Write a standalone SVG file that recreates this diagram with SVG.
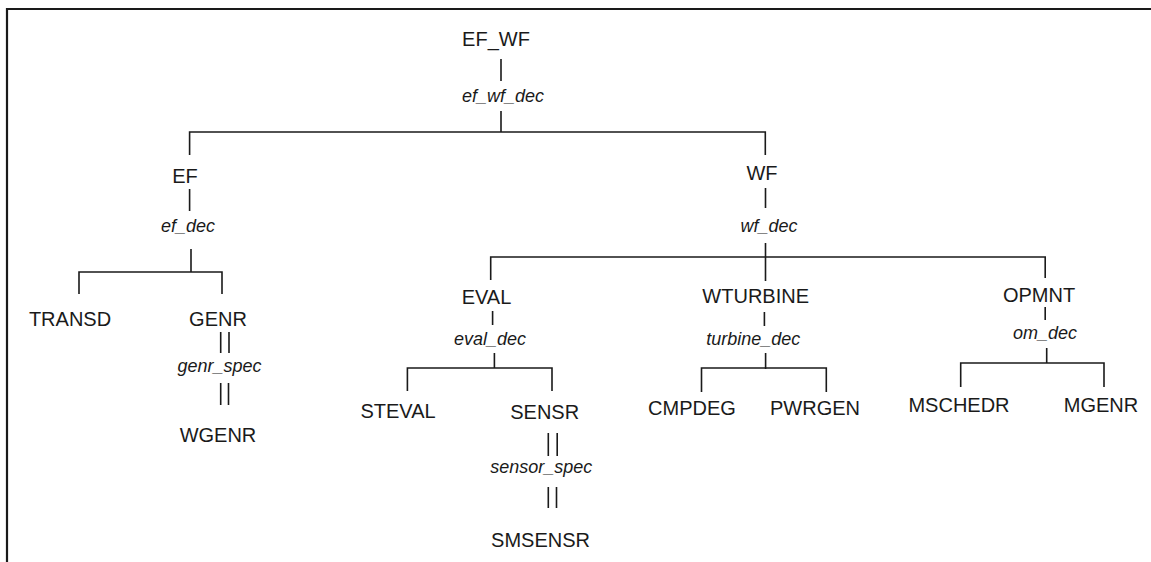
<svg xmlns="http://www.w3.org/2000/svg" width="1151" height="562" viewBox="0 0 1151 562">
<style>
.n{font-family:"Liberation Sans",Arial,sans-serif;font-size:20px;fill:#1a1a1a;text-anchor:middle}
.d{font-family:"Liberation Sans",Arial,sans-serif;font-size:18px;font-style:italic;fill:#1a1a1a;text-anchor:middle}
.c{stroke:#1a1a1a;stroke-width:1.6;fill:none}
.f{stroke:#1a1a1a;stroke-width:2.2;fill:none}
</style>
<rect width="1151" height="562" fill="#ffffff"/>
<path class="f" d="M1151 9H7V562"/>
<g id="connectors">
<path class="c" d="M501 59V81M501 111V132M189.6 155V132H765.3V155"/>
<path class="c" d="M189.6 189V211M191 249V272M79 294V272H222V294"/>
<path class="c" d="M765.5 188V208M765.5 243V281M490.7 280V257H1045.2V278"/>
<path class="c" d="M492.6 311V325M494.4 353V368M407.4 391V368H552V391"/>
<path class="c" d="M764.4 312V326M765.6 353V369M701.5 392V368H826.3V392"/>
<path class="c" d="M1045.2 307V320M1046.7 348V363M960.7 387V363H1104V387"/>
<path class="c" d="M220.7 332V353M229 332V353M220.7 383V405M228.5 383V405"/>
<path class="c" d="M548.3 433V456M557.2 433V456M548.3 487V508M556.5 487V508"/>
</g>
<g id="EF_WF"><text class="n" x="496" y="46">EF_WF</text></g>
<g id="ef_wf_dec"><text class="d" x="503" y="102">ef_wf_dec</text></g>
<g id="EF"><text class="n" x="185" y="183">EF</text></g>
<g id="ef_dec"><text class="d" x="188" y="232">ef_dec</text></g>
<g id="WF"><text class="n" x="762" y="180">WF</text></g>
<g id="wf_dec"><text class="d" x="769" y="232">wf_dec</text></g>
<g id="TRANSD"><text class="n" x="70" y="326">TRANSD</text></g>
<g id="GENR"><text class="n" x="218" y="326">GENR</text></g>
<g id="genr_spec"><text class="d" x="219.5" y="372">genr_spec</text></g>
<g id="WGENR"><text class="n" x="218" y="442">WGENR</text></g>
<g id="EVAL"><text class="n" x="486.5" y="304">EVAL</text></g>
<g id="eval_dec"><text class="d" x="490" y="345">eval_dec</text></g>
<g id="STEVAL"><text class="n" x="398" y="418">STEVAL</text></g>
<g id="SENSR"><text class="n" x="544.7" y="419">SENSR</text></g>
<g id="sensor_spec"><text class="d" x="541.3" y="473">sensor_spec</text></g>
<g id="SMSENSR"><text class="n" x="540.5" y="547">SMSENSR</text></g>
<g id="WTURBINE"><text class="n" x="755.7" y="303">WTURBINE</text></g>
<g id="turbine_dec"><text class="d" x="753.3" y="345">turbine_dec</text></g>
<g id="CMPDEG"><text class="n" x="692" y="415">CMPDEG</text></g>
<g id="PWRGEN"><text class="n" x="815" y="415">PWRGEN</text></g>
<g id="OPMNT"><text class="n" x="1039" y="302">OPMNT</text></g>
<g id="om_dec"><text class="d" x="1045" y="339">om_dec</text></g>
<g id="MSCHEDR"><text class="n" x="959" y="412">MSCHEDR</text></g>
<g id="MGENR"><text class="n" x="1101" y="412">MGENR</text></g>
</svg>
